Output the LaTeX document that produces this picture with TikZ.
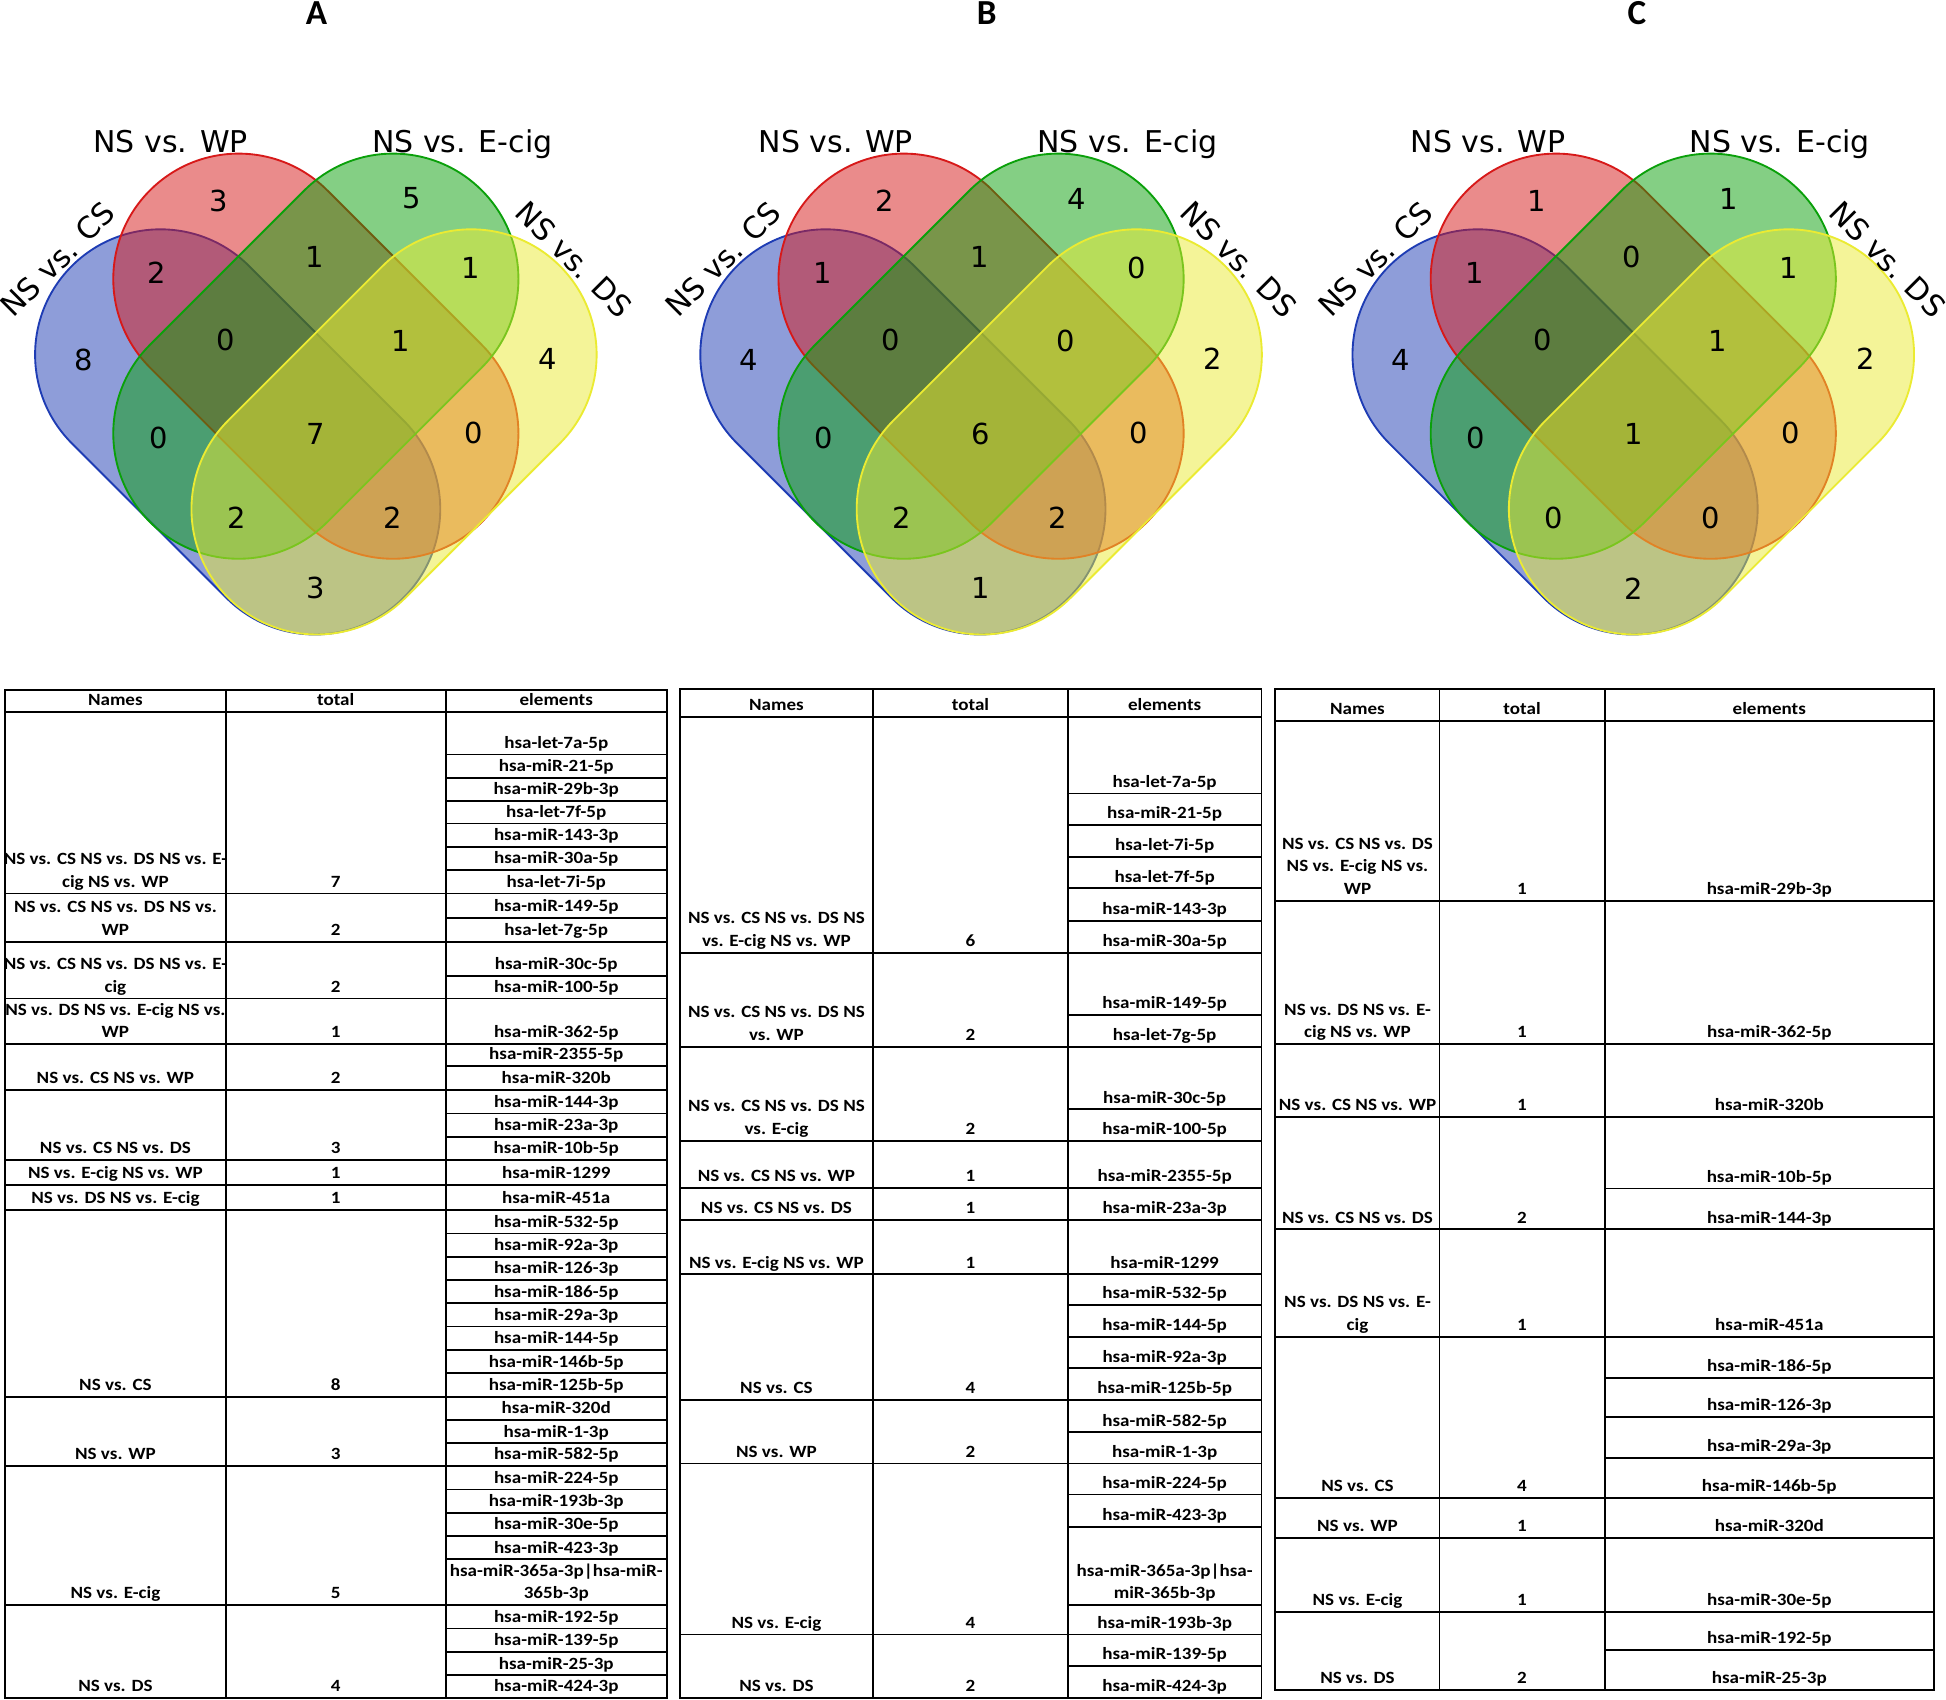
\documentclass[tikz,border=0pt]{standalone}
\usepackage{fontspec}
\setmainfont{DejaVu Sans}
\newfontfamily\tabfont[FakeStretch=1.11]{Carlito}
\newfontfamily\ttlfont{Carlito}
\usepackage{xcolor}
\usepackage{tikz}
\usetikzlibrary{positioning}

\definecolor{csblue}{RGB}{30,60,180}
\definecolor{wpred}{RGB}{215,25,25}
\definecolor{ecgreen}{RGB}{10,160,10}
\definecolor{dsyellow}{RGB}{235,235,50}

\tikzset{
  venn/.style={line width=0.9pt, fill opacity=0.5},
  lbl/.style={inner sep=0pt, font=\fontsize{14.5pt}{17pt}\selectfont},
  num/.style={inner sep=0pt, font=\fontsize{14pt}{17pt}\selectfont},
  ttl/.style={inner sep=0pt, font=\ttlfont\bfseries\fontsize{17pt}{20pt}\selectfont},
  tbl/.style={line width=0.9pt},
  cell/.style={anchor=south, inner sep=0pt, align=center,
    font=\tabfont\bfseries\fontsize{8.3pt}{11pt}\selectfont,
    execute at end node={\rule[-2.8pt]{0pt}{1pt}}},
}

\begin{document}
\begin{tikzpicture}[x=0.6pt, y=-0.6pt]
\useasboundingbox (0,0) rectangle (1568,1369);
\fill[white] (0,0) rectangle (1568,1369);

\foreach \cx/\tx/\tl/\dsx [count=\v] in {254.5/255/A/208, 790.5/795/B/208, 1316/1319/C/205}{
  \foreach \col/\sx/\sy/\ang in {csblue/-63/348/-45, wpred/0/287/-45, ecgreen/0/287/45, dsyellow/63/348/45}
    \filldraw[venn, \col, shift={(\cx+\sx,\sy)}, rotate=\ang] (-88,-101) -- (88,-101)
      arc[start angle=-90, end angle=90, radius=101] -- (-88,101)
      arc[start angle=90, end angle=270, radius=101] -- cycle;
  \node[ttl] (title\v) at (\tx,10.5) {\tl};
  \node[lbl, anchor=base] (wp\v) at (\cx-117,123) {NS vs. WP};
  \node[lbl, anchor=base] (ecig\v) at (\cx+118,123) {NS vs. E-cig};
  \node[lbl, rotate=45] (cs\v) at (\cx-208,209) {NS vs. CS};
  \node[lbl, rotate=-45] (ds\v) at (\cx+\dsx,209) {NS vs. DS};
}

\foreach \dx/\py/\na/\nb/\nc [count=\k] in {
  -187/290/8/4/4, -78/162/3/2/1, 77/160/5/4/1, 187/289/4/2/2,
  -128/220/2/1/1, -1/207/1/1/0, 125/216/1/0/1,
  -73/274/0/0/0, 68/275/1/0/1,
  -127/353/0/0/0, 0/350/7/6/1, 127/349/0/0/0,
  -64/417/2/2/0, 62/417/2/2/0, 0/474/3/1/2}{
  \node[num] (na\k) at (254.5+\dx,\py) {\na};
  \node[num] (nb\k) at (790.5+\dx,\py) {\nb};
  \node[num] (nc\k) at (1316+\dx,\py) {\nc};
}

\foreach \xa/\xb/\xc/\xd/\yt/\yh/\yb/\t in {
  4.1/181.8/359.2/537.2/556/573.5/1368/a,
  547.6/703.6/860.4/1016.4/555.2/577.5/1368/b,
  1027.6/1159.9/1292.9/1558.3/555.2/581/1361.8/c}{
  \draw[tbl] (\xa,\yt) rectangle (\xd,\yb) (\xb,\yt) -- (\xb,\yb)
    (\xc,\yt) -- (\xc,\yb) (\xa,\yh) -- (\xd,\yh);
  \node[cell] (\t hd1) at ({(\xa+\xb)/2},\yh) {Names};
  \node[cell] (\t hd2) at ({(\xb+\xc)/2},\yh) {total};
  \node[cell] (\t hd3) at ({(\xc+\xd)/2},\yh) {elements};
}

\foreach \nm/\tot/\yb [count=\k] in {
  {NS vs. CS NS vs. DS NS vs. E-\\cig NS vs. WP}/7/719.9,
  {NS vs. CS NS vs. DS NS vs.\\WP}/2/758.8,
  {NS vs. CS NS vs. DS NS vs. E-\\cig}/2/804.5,
  {NS vs. DS NS vs. E-cig NS vs.\\WP}/1/841.3,
  {NS vs. CS NS vs. WP}/2/878.3,
  {NS vs. CS NS vs. DS}/3/934.8,
  {NS vs. E-cig NS vs. WP}/1/954.9,
  {NS vs. DS NS vs. E-cig}/1/975.1,
  {NS vs. CS}/8/1125.4,
  {NS vs. WP}/3/1181.3,
  {NS vs. E-cig}/5/1293.3,
  {NS vs. DS}/4/1368}{
  \draw[tbl] (4.1,\yb) -- (537.2,\yb);
  \node[cell] (aname\k) at (93,\yb) {\nm};
  \node[cell] (atot\k) at (270.5,\yb) {\tot};
}
\foreach \el/\yb [count=\k] in {
  hsa-let-7a-5p/607.9, hsa-miR-21-5p/626.7, hsa-miR-29b-3p/645.5,
  hsa-let-7f-5p/663.5, hsa-miR-143-3p/682.3, hsa-miR-30a-5p/701.1,
  hsa-let-7i-5p/719.9, hsa-miR-149-5p/739.5, hsa-let-7g-5p/758.8,
  hsa-miR-30c-5p/786.2, hsa-miR-100-5p/804.5, hsa-miR-362-5p/841.3,
  hsa-miR-2355-5p/859, hsa-miR-320b/878.3, hsa-miR-144-3p/897.2,
  hsa-miR-23a-3p/916, hsa-miR-10b-5p/934.8, hsa-miR-1299/954.9,
  hsa-miR-451a/975.1, hsa-miR-532-5p/993.9, hsa-miR-92a-3p/1012.7,
  hsa-miR-126-3p/1031.5, hsa-miR-186-5p/1050.2, hsa-miR-29a-3p/1068.8,
  hsa-miR-144-5p/1087.8, hsa-miR-146b-5p/1106.6, hsa-miR-125b-5p/1125.4,
  hsa-miR-320d/1144.2, hsa-miR-1-3p/1163, hsa-miR-582-5p/1181.3,
  hsa-miR-224-5p/1200.1, hsa-miR-193b-3p/1218.9, hsa-miR-30e-5p/1237.7,
  hsa-miR-423-3p/1256.4, {hsa-miR-365a-3p|hsa-miR-\\365b-3p}/1293.3,
  hsa-miR-192-5p/1312.2, hsa-miR-139-5p/1331, hsa-miR-25-3p/1349.8,
  hsa-miR-424-3p/1368}{
  \draw[tbl] (359.2,\yb) -- (537.2,\yb);
  \node[cell] (ael\k) at (448.2,\yb) {\el};
}

\foreach \nm/\tot/\yb [count=\k] in {
  {NS vs. CS NS vs. DS NS\\vs. E-cig NS vs. WP}/6/767.8,
  {NS vs. CS NS vs. DS NS\\vs. WP}/2/843.4,
  {NS vs. CS NS vs. DS NS\\vs. E-cig}/2/919.2,
  {NS vs. CS NS vs. WP}/1/956.9,
  {NS vs. CS NS vs. DS}/1/983.1,
  {NS vs. E-cig NS vs. WP}/1/1026.7,
  {NS vs. CS}/4/1128.1,
  {NS vs. WP}/2/1179.2,
  {NS vs. E-cig}/4/1317,
  {NS vs. DS}/2/1368}{
  \draw[tbl] (547.6,\yb) -- (1016.4,\yb);
  \node[cell] (bname\k) at (625.6,\yb) {\nm};
  \node[cell] (btot\k) at (782,\yb) {\tot};
}
\foreach \el/\yb [count=\k] in {
  hsa-let-7a-5p/639.3, hsa-miR-21-5p/664.8, hsa-let-7i-5p/690.3,
  hsa-let-7f-5p/715.8, hsa-miR-143-3p/742.1, hsa-miR-30a-5p/767.8,
  hsa-miR-149-5p/817.8, hsa-let-7g-5p/843.4, hsa-miR-30c-5p/893.9,
  hsa-miR-100-5p/919.2, hsa-miR-2355-5p/956.9, hsa-miR-23a-3p/983.1,
  hsa-miR-1299/1026.7, hsa-miR-532-5p/1051.6, hsa-miR-144-5p/1077.1,
  hsa-miR-92a-3p/1102.6, hsa-miR-125b-5p/1128.1, hsa-miR-582-5p/1154,
  hsa-miR-1-3p/1179.2, hsa-miR-224-5p/1204.2, hsa-miR-423-3p/1230.3,
  {hsa-miR-365a-3p|hsa-\\miR-365b-3p}/1293.3, hsa-miR-193b-3p/1317,
  hsa-miR-139-5p/1342.3, hsa-miR-424-3p/1368}{
  \draw[tbl] (860.4,\yb) -- (1016.4,\yb);
  \node[cell] (bel\k) at (938.4,\yb) {\el};
}

\foreach \nm/\tot/\yb [count=\k] in {
  {NS vs. CS NS vs. DS\\NS vs. E-cig NS vs.\\WP}/1/725.8,
  {NS vs. DS NS vs. E-\\cig NS vs. WP}/1/841.3,
  {NS vs. CS NS vs. WP}/1/899.8,
  {NS vs. CS NS vs. DS}/2/990.6,
  {NS vs. DS NS vs. E-\\cig}/1/1077.1,
  {NS vs. CS}/4/1206.8,
  {NS vs. WP}/1/1239.1,
  {NS vs. E-cig}/1/1298.9,
  {NS vs. DS}/2/1361.8}{
  \draw[tbl] (1027.6,\yb) -- (1558.3,\yb);
  \node[cell] (cname\k) at (1093.8,\yb) {\nm};
  \node[cell] (ctot\k) at (1226.4,\yb) {\tot};
}
\foreach \el/\yb [count=\k] in {
  hsa-miR-29b-3p/725.8, hsa-miR-362-5p/841.3, hsa-miR-320b/899.8,
  hsa-miR-10b-5p/957.6, hsa-miR-144-3p/990.6, hsa-miR-451a/1077.1,
  hsa-miR-186-5p/1110.1, hsa-miR-126-3p/1141.6, hsa-miR-29a-3p/1174.6,
  hsa-miR-146b-5p/1206.8, hsa-miR-320d/1239.1, hsa-miR-30e-5p/1298.9,
  hsa-miR-192-5p/1329.6, hsa-miR-25-3p/1361.8}{
  \draw[tbl] (1292.9,\yb) -- (1558.3,\yb);
  \node[cell] (cel\k) at (1425.6,\yb) {\el};
}
\end{tikzpicture}
\end{document}
